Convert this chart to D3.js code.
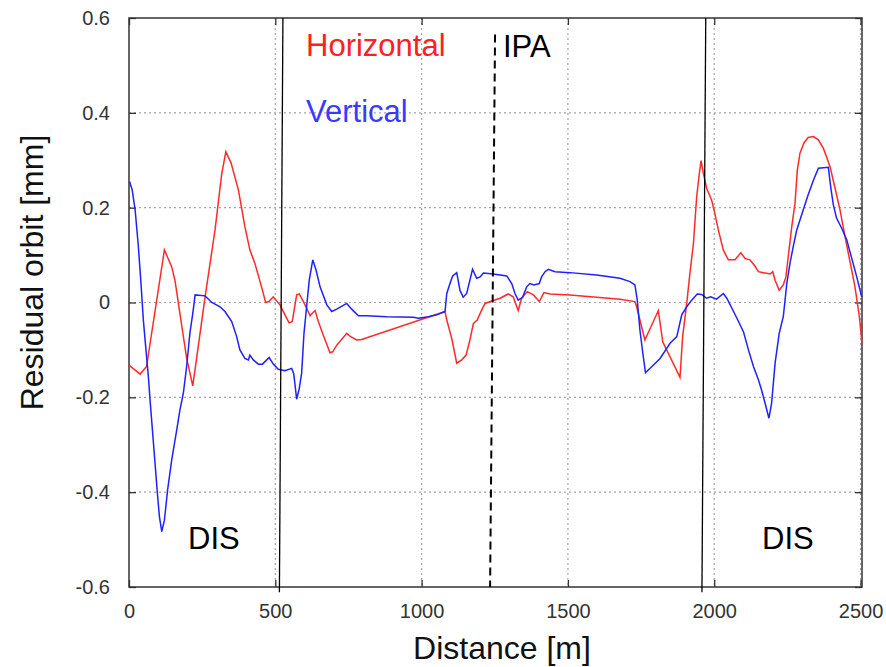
<!DOCTYPE html>
<html>
<head>
<meta charset="utf-8">
<script src="https://cdn.jsdelivr.net/npm/d3@7"></script>
<style>
  body { margin: 0; background: #fff; }
  svg { font-family: "Liberation Sans", Arial, sans-serif; }
</style>
</head>
<body>
<div id="chart"></div>
<script>
// horizontal residual (red), distance in m, residual in mm
var hDist = [0, 38, 60, 121, 146, 157, 197, 218, 260, 294, 317, 331, 349, 374, 396, 413, 430, 453, 467, 478,
  493, 516, 533, 547, 558, 573, 582, 596, 607, 619, 624, 636, 647, 664, 687, 696, 710, 744, 755, 778,
  795, 1080, 1086, 1103, 1120, 1137, 1152, 1165, 1177, 1190, 1205, 1217, 1240, 1268, 1296, 1313, 1330, 1342, 1361, 1382,
  1402, 1418, 1439, 1507, 1598, 1678, 1729, 1735, 1746, 1763, 1809, 1824, 1883, 1892, 1906, 1917, 1929, 1940, 1949, 1955,
  1963, 1974, 1991, 2002, 2014, 2031, 2048, 2071, 2091, 2105, 2122, 2139, 2151, 2174, 2191, 2200, 2208, 2222, 2236, 2245,
  2253, 2265, 2276, 2284, 2293, 2307, 2321, 2339, 2356, 2373, 2384, 2396, 2413, 2430, 2447, 2464, 2481, 2496, 2505];
var hRes = [-0.132, -0.151, -0.135, 0.111, 0.075, 0.047, -0.118, -0.176, 0.012, 0.153, 0.272, 0.318, 0.294, 0.237, 0.160, 0.111, 0.083, 0.033, 0.000, 0.002,
  0.012, -0.005, -0.026, -0.043, -0.040, 0.016, 0.018, 0.002, -0.012, -0.028, -0.024, -0.017, -0.040, -0.069, -0.106, -0.104, -0.090, -0.065, -0.071, -0.079,
  -0.078, -0.019, -0.037, -0.076, -0.128, -0.121, -0.111, -0.079, -0.044, -0.037, -0.016, -0.002, 0.003, 0.009, 0.018, 0.012, -0.017, 0.009, 0.023, 0.016,
  0.002, 0.021, 0.018, 0.016, 0.011, 0.007, 0.002, -0.009, -0.037, -0.079, -0.017, -0.083, -0.158, -0.072, -0.002, 0.062, 0.125, 0.223, 0.272, 0.299,
  0.272, 0.241, 0.216, 0.188, 0.153, 0.111, 0.090, 0.090, 0.105, 0.093, 0.090, 0.077, 0.065, 0.062, 0.060, 0.065, 0.047, 0.026, 0.037, 0.054,
  0.097, 0.160, 0.209, 0.279, 0.315, 0.337, 0.348, 0.350, 0.343, 0.325, 0.307, 0.286, 0.241, 0.195, 0.139, 0.086, 0.033, -0.030, -0.086];

// vertical residual (blue)
var vDist = [2, 11, 21, 32, 41, 49, 57, 66, 72, 80, 89, 97, 104, 112, 121, 132, 146, 163, 174, 186,
  197, 208, 218, 226, 260, 283, 311, 328, 351, 368, 379, 396, 408, 413, 425, 442, 456, 479, 493, 510,
  533, 556, 563, 573, 582, 590, 598, 607, 616, 628, 639, 653, 676, 693, 710, 744, 761, 784, 812, 881,
  972, 989, 1023, 1052, 1080, 1086, 1097, 1106, 1120, 1131, 1142, 1154, 1174, 1188, 1200, 1211, 1245, 1291, 1308, 1319,
  1330, 1345, 1359, 1370, 1384, 1402, 1410, 1422, 1433, 1456, 1507, 1598, 1678, 1712, 1729, 1737, 1746, 1756, 1765, 1815,
  1849, 1872, 1889, 1906, 1923, 1942, 1957, 1974, 1988, 2008, 2031, 2043, 2066, 2083, 2100, 2117, 2134, 2151, 2162, 2174,
  2187, 2196, 2208, 2222, 2236, 2248, 2259, 2270, 2282, 2293, 2304, 2321, 2339, 2356, 2390, 2398, 2407, 2418, 2436, 2453,
  2470, 2487, 2504];
var vRes = [0.255, 0.237, 0.195, 0.118, 0.040, -0.037, -0.093, -0.155, -0.206, -0.269, -0.339, -0.402, -0.452, -0.483, -0.459, -0.395, -0.332, -0.269, -0.227, -0.190,
  -0.135, -0.065, -0.023, 0.016, 0.014, 0.000, -0.009, -0.019, -0.040, -0.072, -0.100, -0.118, -0.121, -0.111, -0.121, -0.130, -0.130, -0.116, -0.130, -0.141,
  -0.144, -0.139, -0.150, -0.204, -0.181, -0.149, -0.065, -0.009, 0.047, 0.090, 0.069, 0.033, -0.005, -0.019, -0.014, -0.002, -0.014, -0.028, -0.028, -0.030,
  -0.031, -0.033, -0.030, -0.026, -0.019, 0.019, 0.040, 0.056, 0.063, 0.026, 0.011, 0.019, 0.070, 0.051, 0.054, 0.062, 0.060, 0.056, 0.040, 0.019,
  0.005, 0.011, 0.033, 0.040, 0.037, 0.040, 0.054, 0.065, 0.070, 0.065, 0.063, 0.058, 0.051, 0.044, 0.037, 0.005, -0.058, -0.107, -0.148, -0.118,
  -0.086, -0.072, -0.026, -0.009, 0.005, 0.018, 0.017, 0.009, 0.012, 0.007, 0.019, 0.009, -0.019, -0.040, -0.062, -0.100, -0.135, -0.163, -0.185, -0.213,
  -0.244, -0.213, -0.128, -0.065, -0.030, 0.040, 0.083, 0.118, 0.153, 0.174, 0.195, 0.227, 0.258, 0.283, 0.285, 0.244, 0.206, 0.178, 0.156, 0.132,
  0.093, 0.054, 0.012];

var xTicks = [0, 500, 1000, 1500, 2000, 2500];
var yTicks = [-0.6, -0.4, -0.2, 0, 0.2, 0.4, 0.6];

// section boundaries (slightly slanted in the original): [top x, bottom x]
var disLines = [[526, 514], [1971, 1958]];
var ipaLine = [1251, 1234];

var W = 886, H = 667;
var padL = 129, padR = 862, padT = 18, padB = 587;

var x = d3.scaleLinear().domain([0, 2505]).range([padL, padR]);
var y = d3.scaleLinear().domain([-0.6, 0.6]).range([padB, padT]);

var svg = d3.select("#chart").append("svg")
  .attr("width", W).attr("height", H);

// grid
svg.append("g").selectAll("line")
  .data(xTicks.filter(function(d) { return d > 0; }))
  .enter().append("line")
  .attr("x1", function(d) { return x(d); }).attr("x2", function(d) { return x(d); })
  .attr("y1", padT).attr("y2", padB)
  .attr("stroke", "#a5a5a5").attr("stroke-width", 1.2).attr("stroke-dasharray", "2,3");

svg.append("g").selectAll("line")
  .data(yTicks.filter(function(d) { return d > -0.6 && d < 0.6; }))
  .enter().append("line")
  .attr("x1", padL).attr("x2", padR)
  .attr("y1", function(d) { return y(d); }).attr("y2", function(d) { return y(d); })
  .attr("stroke", "#a5a5a5").attr("stroke-width", 1.2).attr("stroke-dasharray", "2,3");

// axes, ticks pointing inward
var xAxis = svg.append("g").attr("transform", "translate(0," + padB + ")")
  .call(d3.axisBottom(x).tickValues(xTicks).tickSize(-7).tickPadding(17).tickFormat(d3.format("d")));
var xAxisTop = svg.append("g").attr("transform", "translate(0," + padT + ")")
  .call(d3.axisTop(x).tickValues(xTicks).tickSize(-7).tickFormat(""));
var yAxis = svg.append("g").attr("transform", "translate(" + padL + ",0)")
  .call(d3.axisLeft(y).tickValues(yTicks).tickSize(-7).tickPadding(19).tickFormat(function(d) { return d === 0 ? "0" : d.toFixed(1); }));
var yAxisRight = svg.append("g").attr("transform", "translate(" + padR + ",0)")
  .call(d3.axisRight(y).tickValues(yTicks).tickSize(-7).tickFormat(""));

[xAxis, xAxisTop, yAxis, yAxisRight].forEach(function(g) {
  g.select(".domain").remove();
  g.selectAll(".tick line").attr("stroke", "#333").attr("stroke-width", 1.3);
  g.selectAll("text").attr("font-size", 20).attr("fill", "#333")
    .attr("font-family", "Liberation Sans, Arial, sans-serif");
});

// frame
svg.append("rect")
  .attr("x", padL).attr("y", padT).attr("width", padR - padL).attr("height", padB - padT)
  .attr("fill", "none").attr("stroke", "#333").attr("stroke-width", 1.5);

// series
var line = d3.line()
  .x(function(d) { return x(d[0]); })
  .y(function(d) { return y(d[1]); });

svg.append("path")
  .datum(d3.zip(hDist, hRes))
  .attr("d", line)
  .attr("fill", "none").attr("stroke", "#ff2a2a").attr("stroke-width", 1.5);

svg.append("path")
  .datum(d3.zip(vDist, vRes))
  .attr("d", line)
  .attr("fill", "none").attr("stroke", "#2020ff").attr("stroke-width", 1.5);

// section lines
disLines.forEach(function(d) {
  svg.append("line")
    .attr("x1", x(d[0])).attr("y1", y(0.6))
    .attr("x2", x(d[1])).attr("y2", y(-0.611))
    .attr("stroke", "#000").attr("stroke-width", 1.3);
});

svg.append("line")
  .attr("x1", x(ipaLine[0])).attr("y1", y(0.565))
  .attr("x2", x(ipaLine[1])).attr("y2", y(-0.6))
  .attr("stroke", "#000").attr("stroke-width", 2).attr("stroke-dasharray", "8,5");

// labels
function label(txt, px, py, color) {
  svg.append("text").attr("x", px).attr("y", py)
    .attr("font-size", 31).attr("fill", color).text(txt);
}
label("Horizontal", 306, 56, "#ff2020");
label("Vertical", 306, 122, "#3a3aff");
label("IPA", 503, 57, "#000");
label("DIS", 188, 549, "#000");
label("DIS", 762, 549, "#000");

// axis titles
svg.append("text")
  .attr("x", 502).attr("y", 659)
  .attr("text-anchor", "middle").attr("font-size", 32).attr("fill", "#111")
  .text("Distance [m]");

svg.append("text")
  .attr("transform", "translate(43," + ((padT + padB) / 2 - 30) + ") rotate(-90)")
  .attr("text-anchor", "middle").attr("font-size", 32).attr("fill", "#111")
  .text("Residual orbit [mm]");
</script>
</body>
</html>
